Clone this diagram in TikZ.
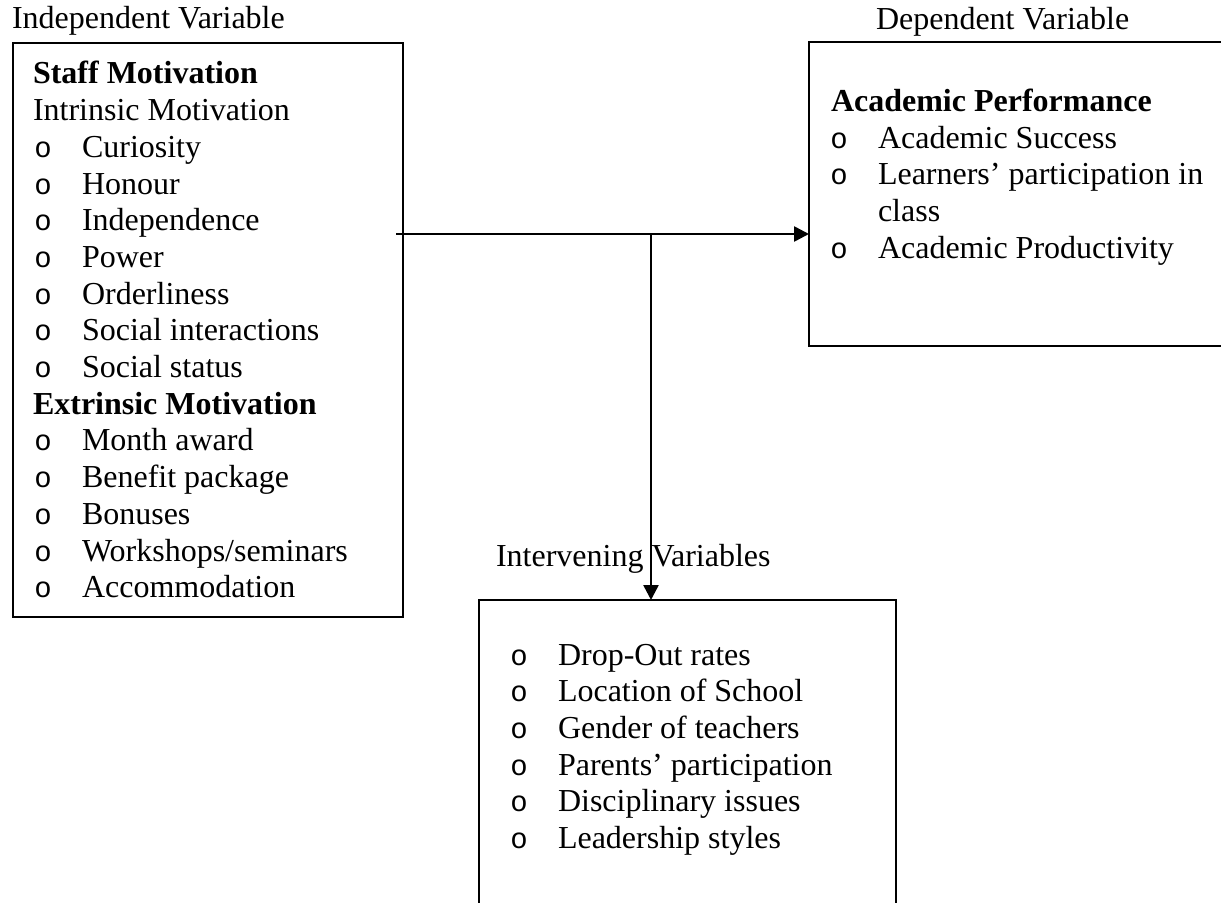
\documentclass[tikz,border=0pt]{standalone}
\usepackage{fontspec}
\setmainfont{Liberation Serif}
\newfontfamily\bulletfont{Liberation Mono}
\usetikzlibrary{fit,arrows.meta}
\begin{document}
\begin{tikzpicture}[x=0.5pt,y=-0.5pt,
  every node/.style={font=\fontsize{16}{18.35}\selectfont, inner sep=0pt, outer sep=0pt},
  txt/.style={anchor=base west},
  hd/.style={anchor=base west, font=\fontsize{16}{18.35}\selectfont\bfseries},
  bul/.style={anchor=base, font=\bulletfont\fontsize{14.5}{18.35}\selectfont},
  framebox/.style={draw, line width=1.4pt, inner sep=0pt},
  arr/.style={line width=1.3pt, -{Triangle[length=7.5pt,width=7.5pt]}}]
\useasboundingbox (0,0) rectangle (1221,903);
\clip (0,0) rectangle (1221,903);
\fill[white] (0,0) rectangle (1221,903);

% boxes
\node[framebox, fit={(13,43) (403,617)}] (ind) {};
\node[framebox, fit={(809,42) (1240,346)}] (dep) {};
\node[framebox, fit={(479,600) (896,940)}] (int) {};

% labels
\node[txt] (indlab) at (12,29) {Independent Variable};
\node[txt] (deplab) at (876,30) {Dependent Variable};
\node[txt] (intlab) at (496,567) {Intervening Variables};

% left box content
\node[hd] (l0) at (33,84) {Staff Motivation};
\node[txt] (l1) at (33,{84+36.7}) {Intrinsic Motivation};
\foreach \t [count=\i from 2] in {Curiosity,Honour,Independence,Power,Orderliness,Social interactions,Social status}{
  \node[bul] (lb\i) at (43,{84+36.7*\i}) {o};
  \node[txt] (lt\i) at (82,{84+36.7*\i}) {\t};
}
\node[hd] (l9) at (33,{84+36.7*9}) {Extrinsic Motivation};
\foreach \t [count=\i from 10] in {Month award,Benefit package,Bonuses,Workshops/seminars,Accommodation}{
  \node[bul] (lb\i) at (43,{84+36.7*\i}) {o};
  \node[txt] (lt\i) at (82,{84+36.7*\i}) {\t};
}

% right box content
\node[hd] (r0) at (831,111.5) {Academic Performance};
\node[bul] (rb1) at (839,{111.5+36.7}) {o};
\node[txt] (rt1) at (878,{111.5+36.7}) {Academic Success};
\node[bul] (rb2) at (839,{111.5+36.7*2}) {o};
\node[txt] (rt2) at (878,{111.5+36.7*2}) {Learners’ participation in};
\node[txt] (rt3) at (878,{111.5+36.7*3}) {class};
\node[bul] (rb4) at (839,{111.5+36.7*4}) {o};
\node[txt] (rt4) at (878,{111.5+36.7*4}) {Academic Productivity};

% bottom box content
\foreach \t [count=\i from 0] in {Drop-Out rates,Location of School,Gender of teachers,Parents’ participation,Disciplinary issues,Leadership styles}{
  \node[bul] (bb\i) at (519,{665+36.7*\i}) {o};
  \node[txt] (bt\i) at (558,{665+36.7*\i}) {\t};
}

% connectors
\coordinate (s) at (396,234);
\coordinate (j) at (651,234);
\draw[arr] (s) -- (s -| dep.west);
\draw[arr] (j) -- (j |- int.north);
\end{tikzpicture}
\end{document}
